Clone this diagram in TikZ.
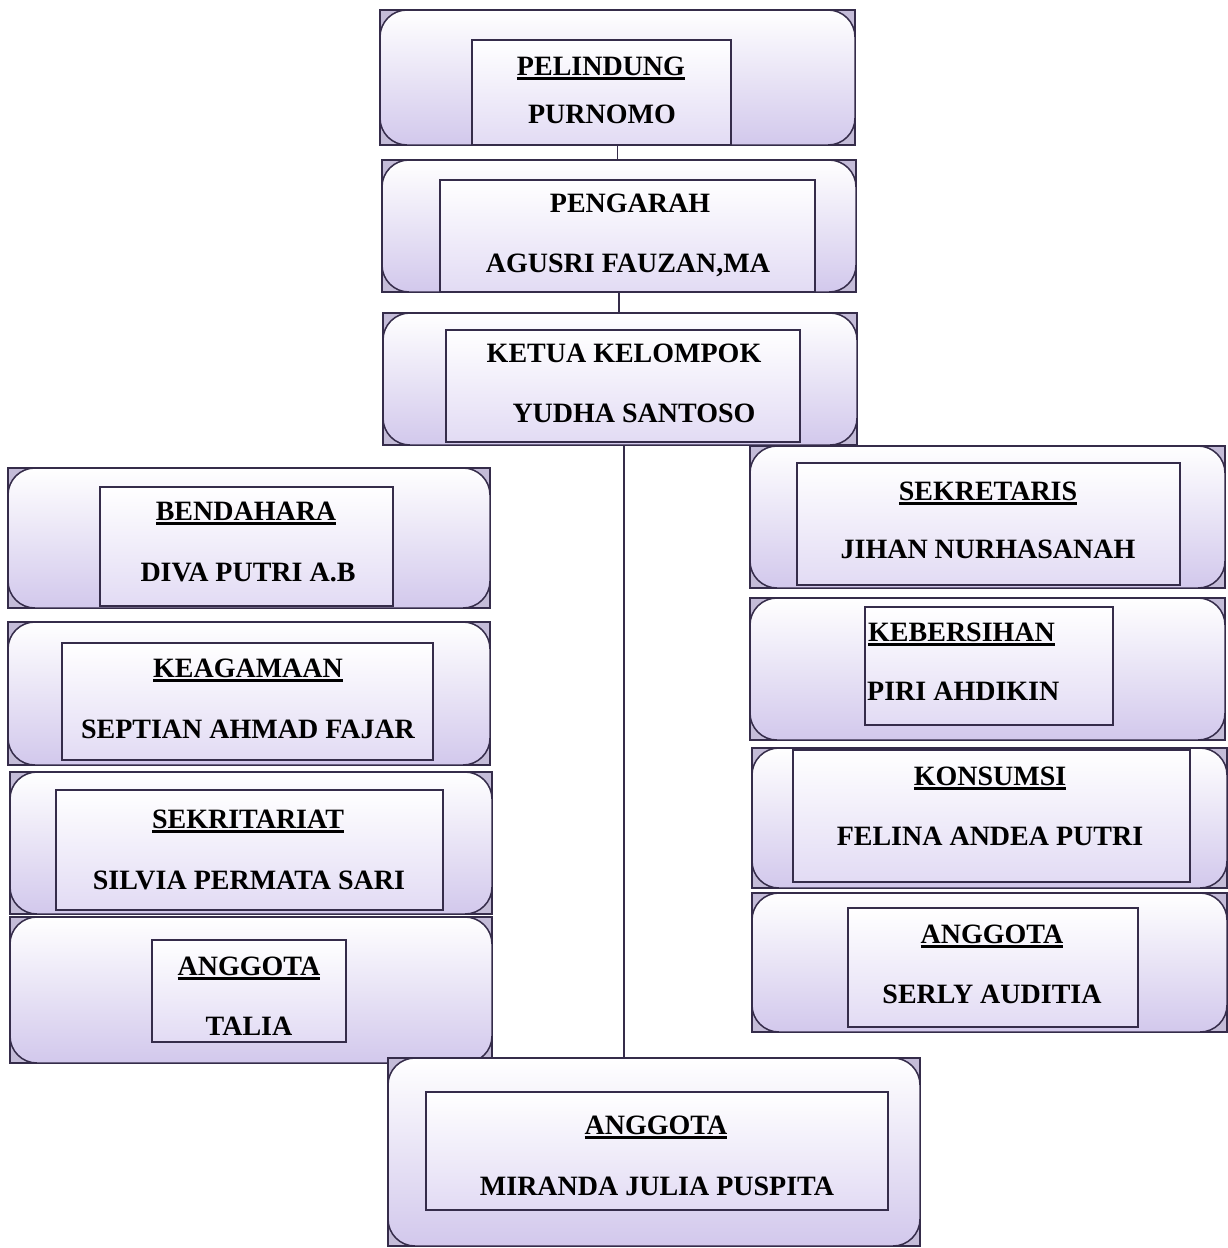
\documentclass[tikz,border=0pt]{standalone}
\usepackage{fontspec}
\setmainfont{Liberation Serif}
\definecolor{bord}{HTML}{352C4A}
\definecolor{lav}{HTML}{D2C8EC}
\definecolor{lavc}{HTML}{C4BCD8}
\definecolor{lavi}{HTML}{E2DBF4}
\newcommand\ulx[1]{\setbox0=\hbox{#1}\rlap{\rule[-4.5pt]{\wd0}{3pt}}\box0}
\tikzset{
  obox/.style={rectangle, draw=bord, line width=2pt, fill=lavc, inner sep=0pt},
  rbox/.style={rectangle, draw=bord, line width=1.5pt, rounded corners=27pt, top color=white, bottom color=lav, inner sep=0pt},
  ibox/.style={rectangle, draw=bord, line width=1.3pt, top color=white, bottom color=lavi, inner sep=0pt},
  lbl/.style={font=\fontsize{28}{31}\selectfont\bfseries, inner sep=0pt, anchor=base},
  conn/.style={draw=bord, line width=1.5pt}
}
\newcommand\blk[5]{%
  \node[obox, minimum width={#4-#2}, minimum height={#5-#3}] (#1) at ({(#2+#4)/2},{(#3+#5)/2}) {};
  \node[rbox, minimum width={#4-#2}, minimum height={#5-#3}] (#1r) at (#1) {};}
\newcommand\inb[5]{%
  \node[ibox, minimum width={#4-#2}, minimum height={#5-#3}] (#1) at ({(#2+#4)/2},{(#3+#5)/2}) {};}
\begin{document}
\begin{tikzpicture}[x=1pt,y=-1pt]
\useasboundingbox (0,0) rectangle (1227,1248);
\fill[white] (0,0) rectangle (1227,1248);

% top column
\blk{pel}{380}{10}{855}{145}
\inb{peli}{472}{40}{731}{145}
\node[lbl] (pelA) at (601,75) {\ulx{PELINDUNG}};
\node[lbl] (pelB) at (602,123) {PURNOMO};

\blk{pen}{382}{160}{856}{292}
\inb{peni}{440}{180}{815}{292}
\node[lbl] (penA) at (630,212) {PENGARAH};
\node[lbl] (penB) at (628,272) {AGUSRI FAUZAN,MA};

\blk{ket}{383}{313}{857}{445}
\inb{keti}{446}{330}{800}{442}
\node[lbl] (ketA) at (624,362) {KETUA KELOMPOK};
\node[lbl] (ketB) at (634,422) {YUDHA SANTOSO};

% left column
\blk{ben}{8}{468}{490}{608}
\inb{beni}{100}{487}{393}{606}
\node[lbl] (benA) at (246,520) {\ulx{BENDAHARA}};
\node[lbl] (benB) at (248,581) {DIVA PUTRI A.B};

\blk{kea}{8}{622}{490}{765}
\inb{keai}{62}{643}{433}{760}
\node[lbl] (keaA) at (248,677) {\ulx{KEAGAMAAN}};
\node[lbl] (keaB) at (248,738) {SEPTIAN AHMAD FAJAR};

\blk{skr}{10}{772}{492}{914}
\inb{skri}{56}{790}{443}{910}
\node[lbl] (skrA) at (248,828) {\ulx{SEKRITARIAT}};
\node[lbl] (skrB) at (249,889) {SILVIA PERMATA SARI};

\blk{agt}{10}{917}{492}{1063}
\inb{agti}{152}{940}{346}{1042}
\node[lbl] (agtA) at (249,975) {\ulx{ANGGOTA}};
\node[lbl] (agtB) at (249,1035) {TALIA};

% right column
\blk{skt}{750}{446}{1225}{588}
\inb{skti}{797}{463}{1180}{585}
\node[lbl] (sktA) at (988,500) {\ulx{SEKRETARIS}};
\node[lbl] (sktB) at (988,558) {JIHAN NURHASANAH};

\blk{keb}{750}{598}{1225}{740}
\inb{kebi}{865}{607}{1113}{725}
\node[lbl, anchor=base west] (kebA) at (868,641) {\ulx{KEBERSIHAN}};
\node[lbl, anchor=base west] (kebB) at (867,700) {PIRI AHDIKIN};

\blk{kon}{752}{748}{1227}{888}
\inb{koni}{793}{750}{1190}{882}
\node[lbl] (konA) at (990,785) {\ulx{KONSUMSI}};
\node[lbl] (konB) at (990,845) {FELINA ANDEA PUTRI};

\blk{ags}{752}{893}{1227}{1032}
\inb{agsi}{848}{908}{1138}{1027}
\node[lbl] (agsA) at (992,943) {\ulx{ANGGOTA}};
\node[lbl] (agsB) at (992,1003) {SERLY AUDITIA};

% bottom
\blk{mir}{388}{1058}{920}{1246}
\inb{miri}{426}{1092}{888}{1210}
\node[lbl] (mirA) at (656,1134) {\ulx{ANGGOTA}};
\node[lbl] (mirB) at (657,1195) {MIRANDA JULIA PUSPITA};

% connectors
\draw[conn] (pel.south) -- (pel.south |- pen.north);
\draw[conn] (pen.south) -- (pen.south |- ket.north);
\draw[conn] ([xshift=4pt]ket.south) -- ([xshift=4pt]ket.south |- mir.north);
\end{tikzpicture}
\end{document}
